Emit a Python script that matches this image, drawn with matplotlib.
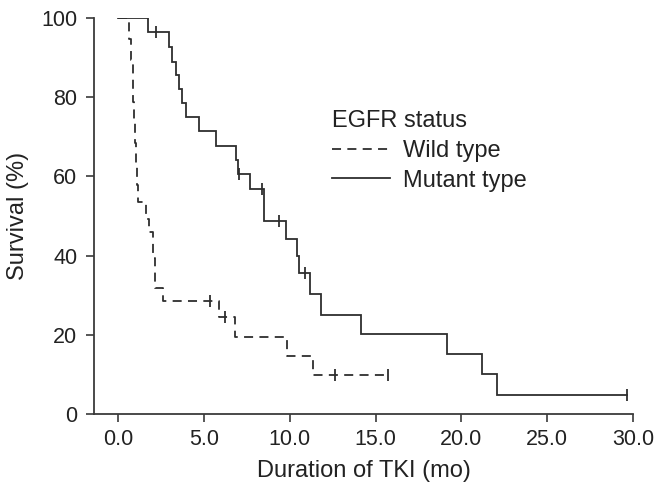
import numpy as np
import matplotlib
matplotlib.use("Agg")
import matplotlib.pyplot as plt

plt.rcParams['font.family'] = ['Liberation Sans', 'DejaVu Sans']

# Data (time in months, survival in %)
mutant_times = [0, 1.73, 2.97, 3.17, 3.38, 3.53, 3.75, 3.98, 4.72, 5.73, 6.85, 7.0,
                7.69, 8.5, 9.8, 10.44, 10.54, 11.16, 11.8, 14.15, 19.14, 21.2, 22.05]
mutant_surv = [100, 96.4, 92.8, 89.0, 85.6, 82.0, 78.6, 75.0, 71.4, 67.8, 64.1, 60.6,
               56.8, 48.7, 44.3, 39.8, 35.5, 30.3, 25.0, 20.3, 15.2, 10.0, 4.9]
mutant_end = 29.66
mutant_censor = [2.2, 7.05, 8.37, 9.38, 10.87, 29.66]

wild_times = [0, 0.64, 0.75, 0.85, 0.9, 0.95, 1.0, 1.05, 1.1, 1.17, 1.63, 1.82,
              2.04, 2.15, 2.64, 5.9, 6.81, 9.85, 11.36]
wild_surv = [100, 94.7, 89.4, 84.2, 78.9, 73.7, 68.4, 63.2, 57.9, 53.6, 49.2, 46.0,
             39.3, 31.7, 28.5, 24.6, 19.5, 14.6, 9.8]
wild_end = 15.74
wild_censor = [5.36, 6.23, 12.64, 15.74]

x_ticks = [0, 5, 10, 15, 20, 25, 30]
x_ticklabels = ["0.0", "5.0", "10.0", "15.0", "20.0", "25.0", "30.0"]
y_ticks = [0, 20, 40, 60, 80, 100]

col = '#2e2e2e'
axcol = '#3a3a3a'
txtcol = '#222222'
fs_tick = 15.5
fs_lab = 17

fig = plt.figure(figsize=(6.57, 4.93), dpi=100)
ax = fig.add_axes([94/657, 1-414/493, (633-94)/657, (414-18)/493])


def step_value(times, surv, t):
    idx = np.searchsorted(times, t, side='right') - 1
    return surv[idx]


def draw_curve(times, surv, end, censor, ls, label):
    t = list(times) + [end]
    s = list(surv) + [surv[-1]]
    ax.plot(t, s, drawstyle='steps-post', color=col, lw=1.3, linestyle=ls,
            label=label, solid_joinstyle='miter')
    cy = [step_value(times, surv, c) for c in censor]
    ax.plot(censor, cy, linestyle='none', marker='|', markersize=8,
            markeredgewidth=1.3, color=col)


draw_curve(wild_times, wild_surv, wild_end, wild_censor, (0, (5, 3.5)), "Wild type")
draw_curve(mutant_times, mutant_surv, mutant_end, mutant_censor, '-', "Mutant type")

ax.set_xlim(-1.4, 30)
ax.set_ylim(0, 100)
ax.set_xticks(x_ticks)
ax.set_xticklabels(x_ticklabels)
ax.set_yticks(y_ticks)

for sp in ['top', 'right']:
    ax.spines[sp].set_visible(False)
for sp in ['left', 'bottom']:
    ax.spines[sp].set_color(axcol)
    ax.spines[sp].set_linewidth(1.3)
ax.tick_params(axis='both', direction='out', length=6, width=1.2, color=axcol,
               labelsize=fs_tick, labelcolor=txtcol)
ax.tick_params(axis='y', pad=6)
ax.tick_params(axis='x', pad=5)

ax.set_xlabel("Duration of TKI (mo)", fontsize=fs_lab, color=txtcol, labelpad=7)
ax.set_ylabel("Survival (%)", fontsize=fs_lab, color=txtcol, labelpad=9)

leg = ax.legend(loc='upper left', bbox_to_anchor=((332-94)/539, (414-110)/396),
                frameon=False, title="EGFR status", fontsize=fs_lab, title_fontsize=fs_lab,
                alignment='left', handlelength=2.45, handletextpad=0.55,
                borderpad=0, borderaxespad=0, labelspacing=0.33)
for txt in leg.get_texts():
    txt.set_color(txtcol)
leg.get_title().set_color(txtcol)

fig.savefig("out.png", dpi=100)
